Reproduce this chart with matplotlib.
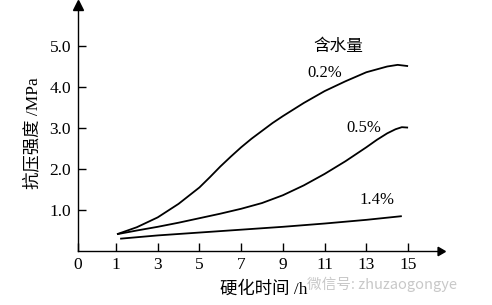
import matplotlib
matplotlib.use("Agg")
import matplotlib.pyplot as plt

plt.rcParams['font.family'] = ['Liberation Serif', 'Noto Sans CJK SC', 'DejaVu Sans']
plt.rcParams['axes.unicode_minus'] = False

# Data
x_02 = [1.05, 2, 3, 4, 5, 5.5, 6, 6.5, 7, 7.5, 8, 8.5, 9, 10, 11, 12, 13, 14, 14.5, 15]
y_02 = [0.41, 0.58, 0.82, 1.15, 1.55, 1.80, 2.06, 2.30, 2.53, 2.74, 2.93, 3.12, 3.29, 3.61, 3.90, 4.14, 4.36, 4.50, 4.54, 4.51]
x_05 = [1.05, 2, 3, 4, 5, 6, 7, 8, 9, 10, 11, 12, 13, 13.5, 14, 14.4, 14.7, 15]
y_05 = [0.41, 0.50, 0.59, 0.69, 0.80, 0.91, 1.03, 1.17, 1.36, 1.60, 1.88, 2.19, 2.53, 2.71, 2.87, 2.97, 3.02, 3.01]
x_14 = [1.2, 3, 5, 7, 9, 11, 13, 14.7]
y_14 = [0.30, 0.38, 0.45, 0.52, 0.59, 0.67, 0.76, 0.85]

series_labels = ['0.2%', '0.5%', '1.4%']
x_ticks = [1, 3, 5, 7, 9, 11, 13, 15]
y_ticks = [1.0, 2.0, 3.0, 4.0, 5.0]
legend_title = '含水量'
xlabel = '硬化时间 /h'
ylabel = '抗压强度 /MPa'
watermark = '微信号: zhuzaogongye'

X0 = -0.82   # position of the drawn origin ("0") on the compressed axis
XMAX = 16.53
YMAX = 6.0

fig = plt.figure(figsize=(4.92, 3.05), dpi=100)
ax = fig.add_axes([78/492, 54/305, (440-78)/492, (251-5)/305])
ax.set_xlim(X0, XMAX)
ax.set_ylim(0, YMAX)

lw = 1.3
for xs, ys in [(x_02, y_02), (x_05, y_05), (x_14, y_14)]:
    ax.plot(xs, ys, color='black', lw=lw, solid_capstyle='butt', solid_joinstyle='round')

for s in ['top', 'right']:
    ax.spines[s].set_visible(False)
for s in ['left', 'bottom']:
    ax.spines[s].set_linewidth(1.0)

ax.set_xticks([X0] + x_ticks)
ax.set_xticklabels(['0'] + [str(v) for v in x_ticks])
ax.set_yticks(y_ticks)
ax.set_yticklabels([f'{v:.1f}' for v in y_ticks])
ax.tick_params(axis='both', direction='in', length=6, width=1.0, labelsize=12.5, pad=5)
ax.tick_params(axis='x', pad=4)

# axis arrows
ax.plot(1, 0, marker=(3, 0, -90), color='black', markersize=7,
        transform=ax.transAxes, clip_on=False)
ax.plot(0, 1, marker='^', color='black', markersize=7,
        transform=ax.transAxes, clip_on=False)

ax.text(11.64, 4.98, legend_title, fontsize=12, ha='center', va='center')
ax.text(11.0, 4.34, series_labels[0], fontsize=12, ha='center', va='center')
ax.text(12.9, 3.0, series_labels[1], fontsize=12, ha='center', va='center')
ax.text(13.5, 1.24, series_labels[2], fontsize=12, ha='center', va='center')

fig.text(264/492, 1 - 290/305, xlabel, fontsize=12.5, ha='center', va='center')
fig.text(33/492, 1 - 133/305, ylabel, fontsize=12.5, ha='center', va='center', rotation=90)
fig.text(382/492, 1 - 284/305, watermark, fontsize=10.5, ha='center', va='center',
         color='#c8c8c8', family=['Noto Sans CJK SC', 'DejaVu Sans'])

fig.savefig('out.png', dpi=100)
